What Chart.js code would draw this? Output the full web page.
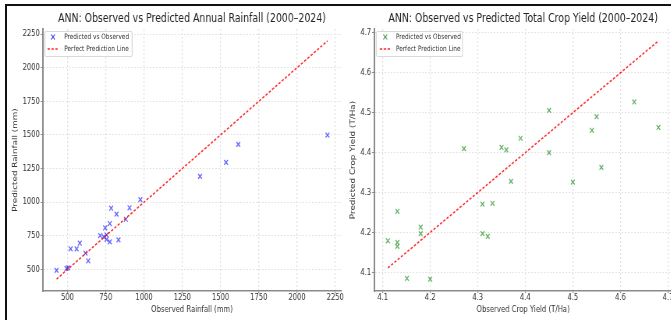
<!DOCTYPE html>
<html><head><meta charset="utf-8">
<script src="https://cdn.jsdelivr.net/npm/chart.js@4.4.0/dist/chart.umd.min.js"></script>
<style>
html,body{margin:0;padding:0;background:#fff;width:671px;height:320px;overflow:hidden;}
#stage{position:absolute;left:0;top:0;width:870px;height:320px;transform:scaleX(0.78);transform-origin:0 0;}
canvas{position:absolute;top:0;}
#c1{left:0}
#c2{left:445px}
.frameL{position:absolute;left:5px;top:4px;width:2px;height:316px;background:#111;}
.frameT{position:absolute;left:5px;top:4px;width:666px;height:2px;background:#111;}
.legend{position:absolute;top:30.7px;height:26px;border:1px solid #d4d4d4;border-radius:2px;background:rgba(255,255,255,0.9);box-sizing:border-box;font-family:'DejaVu Sans';font-size:7.4px;color:#333;}
.legend .txt{position:absolute;left:24.5px;line-height:9px;white-space:nowrap;}
.legend svg{position:absolute;overflow:visible;}
</style></head><body>
<div id="stage">
 <canvas id="c1" width="445" height="320"></canvas>
 <canvas id="c2" width="425" height="320"></canvas>
 <div class="legend" id="lg1" style="left:56.8px;width:113.3px;"></div>
 <div class="legend" id="lg2" style="left:482.1px;width:111.5px;"></div>
</div>
<div class="frameL"></div><div class="frameT"></div>
<script>
// ---- data ----
const seriesLabels = ['Predicted vs Observed', 'Perfect Prediction Line'];

const rainTitle = 'ANN: Observed vs Predicted Annual Rainfall (2000–2024)';
const rainXLabel = 'Observed Rainfall (mm)';
const rainYLabel = 'Predicted Rainfall (mm)';
const rainObserved  = [428, 493, 504, 520, 559, 580, 617, 635, 713, 746, 737, 755, 755, 776, 776, 785, 820, 833, 881, 905, 976, 1366, 1536, 1616, 2199];
const rainPredicted = [493, 507, 512, 653, 653, 695, 621, 564, 752, 809, 742, 757, 723, 705, 841, 955, 911, 720, 873, 958, 1019, 1192, 1296, 1430, 1499];
const rainTicks = [500, 750, 1000, 1250, 1500, 1750, 2000, 2250];

const yieldTitle = 'ANN: Observed vs Predicted Total Crop Yield (2000–2024)';
const yieldXLabel = 'Observed Crop Yield (T/Ha)';
const yieldYLabel = 'Predicted Crop Yield (T/Ha)';
const yieldObserved  = [4.111, 4.131, 4.131, 4.131, 4.151, 4.180, 4.180, 4.200, 4.271, 4.310, 4.310, 4.321, 4.331, 4.350, 4.360, 4.370, 4.390, 4.450, 4.450, 4.500, 4.540, 4.550, 4.560, 4.629, 4.680];
const yieldPredicted = [4.179, 4.253, 4.175, 4.165, 4.085, 4.213, 4.197, 4.083, 4.410, 4.271, 4.197, 4.190, 4.273, 4.413, 4.407, 4.328, 4.436, 4.506, 4.400, 4.326, 4.456, 4.490, 4.363, 4.527, 4.463];
const yieldXTicks = [4.1, 4.2, 4.3, 4.4, 4.5, 4.6, 4.7];
const yieldYTicks = [4.1, 4.2, 4.3, 4.4, 4.5, 4.6, 4.7];

// ---- styling ----
Chart.defaults.font.family = 'DejaVu Sans';
const TXT = '#333';
const GRID = '#e2e2e2';
const SPINE = '#8a8a8a';

function makeChart(id, obs, pred, cfg) {
  const lo = Math.min(...obs), hi = Math.max(...obs);
  const xmin = lo, xmax = hi;
  const ymin = Math.min(...pred, lo), ymax = Math.max(...pred, hi);
  const mx = (xmax - xmin) * 0.05, my = (ymax - ymin) * 0.05;
  const tickFont = {family: 'DejaVu Sans', size: 8.7};
  const titleFont = {family: 'DejaVu Sans', size: 8.8};
  return new Chart(document.getElementById(id), {
    type: 'scatter',
    data: {
      datasets: [
        {
          label: seriesLabels[0],
          data: obs.map((v, i) => ({x: v, y: pred[i]})),
          pointStyle: 'crossRot', pointRadius: 3.4, borderWidth: 1.3,
          borderColor: cfg.color, backgroundColor: cfg.color, order: 1
        },
        {
          label: seriesLabels[1], type: 'line',
          data: [{x: lo, y: lo}, {x: hi, y: hi}],
          borderColor: 'rgba(255,0,0,0.85)', borderWidth: 1.5, borderDash: [3, 2],
          pointRadius: 0, fill: false, showLine: true, order: 0
        }
      ]
    },
    options: {
      responsive: false, animation: false,
      layout: {padding: {left: 0, right: cfg.padRight, top: 0, bottom: 0}},
      plugins: {
        legend: {display: false}, tooltip: {enabled: false},
        title: {display: true, text: cfg.title, fullSize: false,
          font: {family: 'DejaVu Sans', size: 12, weight: 'normal'}, color: '#222',
          padding: {top: 11.8, bottom: 2.8}}
      },
      scales: {
        x: {
          type: 'linear', min: xmin - mx, max: xmax + mx,
          afterBuildTicks: s => { s.ticks = cfg.xTicks.map(v => ({value: v})); },
          afterFit: s => { s.height = 29; },
          ticks: {font: tickFont, color: TXT, padding: 0, maxRotation: 0, autoSkip: false, callback: cfg.fmt},
          grid: {color: GRID, lineWidth: 1.2, tickLength: 2, tickColor: SPINE, drawTicks: true},
          border: {display: true, color: SPINE, width: 1.5, dash: [2, 2]},
          title: {display: true, text: cfg.xLabel, font: titleFont, color: TXT, padding: {top: 0, bottom: 5.3}}
        },
        y: {
          type: 'linear', min: ymin - my, max: ymax + my,
          afterBuildTicks: s => { s.ticks = cfg.yTicks.map(v => ({value: v})); },
          afterFit: s => { s.width = cfg.yWidth; },
          ticks: {font: tickFont, color: TXT, padding: 1, autoSkip: false, callback: cfg.fmt},
          grid: {color: GRID, lineWidth: 1, tickLength: 3, tickColor: SPINE, drawTicks: true},
          border: {display: true, color: SPINE, width: 2, dash: [2, 2]},
          title: {display: true, text: cfg.yLabel, font: titleFont, color: TXT, padding: {top: cfg.yTitlePad, bottom: 0}}
        }
      }
    }
  });
}

makeChart('c1', rainObserved, rainPredicted, {
  title: rainTitle, xLabel: rainXLabel, yLabel: rainYLabel,
  xTicks: rainTicks, yTicks: rainTicks, fmt: v => String(v),
  color: 'rgba(0,0,255,0.6)', padRight: 7.8, yWidth: 55.1, yTitlePad: 14.8
});
makeChart('c2', yieldObserved, yieldPredicted, {
  title: yieldTitle, xLabel: yieldXLabel, yLabel: yieldYLabel,
  xTicks: yieldXTicks, yTicks: yieldYTicks, fmt: v => Number(v).toFixed(1),
  color: 'rgba(0,128,0,0.6)', padRight: 8.5, yWidth: 34.9, yTitlePad: 2.7
});

// ---- legends (HTML) ----
function buildLegend(id, color) {
  const el = document.getElementById(id);
  el.innerHTML =
    '<svg style="left:7.5px;top:2px" width="6" height="6"><line x1="0.5" y1="0.5" x2="5.5" y2="5.5" stroke="' + color + '" stroke-width="1.2"/><line x1="5.5" y1="0.5" x2="0.5" y2="5.5" stroke="' + color + '" stroke-width="1.2"/></svg>' +
    '<div class="txt" style="top:0.5px">' + seriesLabels[0] + '</div>' +
    '<svg style="left:3.7px;top:16.3px" width="15" height="2"><line x1="0" y1="1" x2="15" y2="1" stroke="rgba(255,0,0,0.85)" stroke-width="1.3" stroke-dasharray="3,2"/></svg>' +
    '<div class="txt" style="top:12.8px">' + seriesLabels[1] + '</div>';
}
buildLegend('lg1', 'rgba(0,0,255,0.6)');
buildLegend('lg2', 'rgba(0,128,0,0.6)');
</script>
</body></html>
